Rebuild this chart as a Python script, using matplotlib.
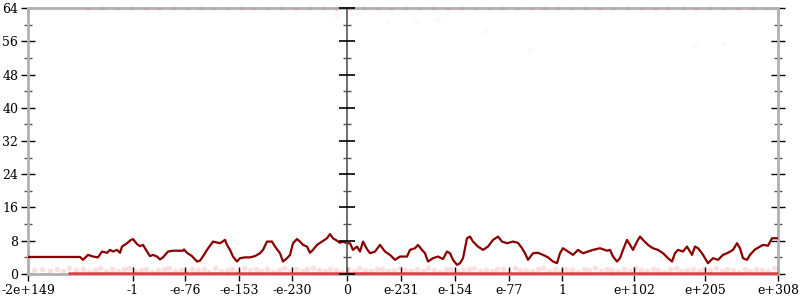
import numpy as np
import matplotlib.pyplot as plt
from matplotlib.ticker import MultipleLocator

# bucket index (0..750) -> running value
line_x = [0, 52, 55, 60, 65, 70, 74, 79, 82, 85, 89, 92, 94, 99, 103, 105, 109, 112, 115, 119,
          122, 125, 129, 132, 135, 140, 145, 155, 156, 159, 164, 169, 172, 176, 179, 185, 192, 197,
          199, 202, 205, 209, 212, 217, 222, 227, 232, 235, 239, 244, 247, 252, 255, 259, 262, 265,
          269, 272, 275, 279, 282, 285, 289, 294, 299, 302, 305, 309, 312, 315, 319, 322, 325, 329,
          332, 335, 339, 342, 347, 352, 357, 362, 367, 372, 379, 382, 387, 390, 394, 397, 400, 405,
          410, 415, 419, 422, 425, 429, 432, 435, 439, 442, 445, 450, 455, 460, 465, 470, 474, 479,
          485, 490, 494, 497, 500, 505, 510, 515, 520, 525, 529, 532, 535, 540, 545, 550, 555, 560,
          565, 572, 579, 582, 585, 589, 592, 595, 599, 602, 605, 609, 612, 615, 620, 625, 630, 635,
          640, 644, 647, 650, 655, 659, 664, 667, 670, 674, 677, 680, 685, 690, 695, 700, 705, 709,
          712, 715, 719, 722, 727, 732, 735, 740, 744, 749]
line_y = [4.1, 4.1, 3.4, 4.6, 4.2, 4.0, 5.4, 5.1, 5.8, 5.4, 5.8, 5.1, 6.6, 7.4, 8.2, 8.4, 7.2, 6.7, 7.0, 5.4,
          4.3, 4.6, 4.2, 3.5, 4.0, 5.4, 5.6, 5.6, 5.9, 5.1, 4.3, 3.0, 3.2, 4.6, 5.8, 7.8, 7.4, 8.2,
          7.0, 5.8, 4.2, 3.0, 3.8, 4.0, 4.0, 4.3, 5.0, 5.8, 7.8, 7.8, 6.6, 5.0, 3.0, 3.8, 4.6, 7.4,
          8.4, 7.8, 7.0, 6.6, 5.1, 5.8, 7.0, 7.8, 8.6, 9.6, 8.6, 8.0, 7.5, 7.8, 7.4, 7.4, 5.8, 6.6,
          5.4, 7.8, 6.0, 5.0, 5.4, 7.0, 5.4, 4.6, 3.4, 4.2, 4.2, 5.8, 6.2, 7.0, 5.8, 5.0, 3.0, 3.8,
          4.2, 3.6, 5.4, 5.0, 3.4, 2.2, 2.6, 3.8, 8.6, 9.0, 7.8, 6.6, 5.8, 6.6, 8.2, 9.0, 7.8, 7.4,
          7.8, 7.5, 6.2, 5.0, 3.4, 5.0, 5.1, 4.6, 4.0, 3.0, 2.6, 5.0, 6.2, 5.4, 4.6, 5.8, 5.0, 5.4,
          5.8, 6.2, 5.6, 5.8, 4.2, 3.0, 3.8, 5.8, 8.2, 7.0, 5.8, 7.8, 9.0, 8.2, 7.0, 6.2, 5.8, 5.0,
          3.8, 3.0, 5.0, 5.8, 5.4, 6.6, 4.6, 6.6, 6.2, 5.0, 3.8, 2.6, 3.8, 3.4, 4.6, 5.1, 5.8, 7.4,
          6.2, 3.8, 3.4, 4.6, 5.9, 6.6, 7.0, 6.8, 8.6, 8.6]

# faint raw samples near the bottom
low_x = [6, 14, 22, 29, 35, 41, 48, 55, 61, 67, 72, 78, 84, 90, 96, 101, 107, 113, 118, 124,
         130, 136, 141, 147, 153, 158, 164, 170, 176, 181, 187, 193, 199, 204, 210, 216, 222, 228,
         233, 239, 245, 251, 256, 262, 268, 274, 279, 285, 291, 297, 302, 308, 314, 320, 326, 331,
         337, 343, 349, 354, 360, 366, 372, 377, 383, 389, 395, 400, 406, 412, 418, 423, 429, 435,
         441, 446, 452, 458, 464, 469, 475, 481, 487, 492, 498, 504, 510, 515, 521, 527, 533, 538,
         544, 550, 556, 561, 567, 573, 579, 584, 590, 596, 602, 607, 613, 619, 625, 630, 636, 642,
         648, 653, 659, 665, 671, 676, 682, 688, 694, 699, 705, 711, 717, 722, 728, 734, 740, 746]
low_y = [1.0, 1.3, 0.7, 1.1, 0.6, 1.4, 0.9, 1.2, 0.5, 1.0, 1.5, 0.8, 1.2, 0.6, 1.1, 1.4, 0.7, 1.0, 1.3, 0.5,
         0.9, 1.2, 1.5, 0.7, 1.0, 0.6, 1.3, 0.9, 1.1, 0.5, 1.4, 0.8, 1.0, 1.2, 0.6, 1.5, 0.9, 1.1,
         0.7, 1.3, 0.5, 1.0, 1.4, 0.8, 1.1, 0.6, 1.2, 1.5, 0.9, 0.7, 1.3, 1.0, 0.5, 1.2, 0.8, 1.4,
         1.0, 0.6, 1.1, 1.3, 0.7, 0.9, 1.5, 1.0, 0.6, 1.2, 0.8, 1.4, 1.0, 0.5, 1.1, 1.3, 0.7, 0.9,
         1.2, 1.5, 0.6, 1.0, 0.8, 1.3, 1.1, 0.5, 1.4, 0.9, 1.0, 0.7, 1.2, 1.5, 0.6, 1.1, 0.8, 1.3,
         1.0, 0.5, 1.2, 0.9, 1.4, 0.7, 1.1, 1.0, 0.6, 1.3, 0.8, 1.5, 1.0, 0.7, 1.2, 0.9, 0.5, 1.1,
         1.4, 0.8, 1.0, 1.3, 0.6, 1.2, 0.9, 1.5, 0.7, 1.1, 1.0, 0.5, 1.3, 0.8, 1.2, 1.0, 0.6, 1.4]
zero_run = [40, 750]

# faint raw samples near the top
top_x = [60, 75, 90, 104, 118, 131, 146, 160, 172, 186, 200, 213, 226, 240, 254, 268, 281, 295,
         308, 322, 336, 350, 363, 378, 392, 405, 420, 433, 447, 461, 475, 489, 503, 516, 530, 544,
         558, 572, 585, 599, 613, 627, 640, 655, 668, 682, 696, 710, 724, 738]
top_y = [63.8, 64.0, 63.7, 64.0, 63.8, 63.7, 64.0, 63.8, 64.0, 63.7, 63.8, 64.0, 63.7, 63.8, 64.0, 63.7, 63.9, 64.0,
         63.7, 63.8, 64.0, 63.7, 63.8, 64.0, 63.7, 63.9, 63.7, 64.0, 63.8, 63.7, 64.0, 63.8, 63.7, 64.0, 63.9, 63.7,
         64.0, 63.8, 63.7, 64.0, 63.8, 63.7, 64.0, 63.9, 63.7, 64.0, 63.8, 63.7, 64.0, 63.8]
stray_x = [308, 330, 359, 388, 410, 457, 502, 667, 696]
stray_y = [62.0, 62.8, 60.8, 60.8, 61.0, 58.5, 54.0, 55.0, 55.6]

tick_pos = [0, 105, 157, 211, 264, 319, 373, 427, 481, 534, 606, 677, 750]
tick_labels = ['-2e+149', '-1', '-e-76', '-e-153', '-e-230', '0', 'e-231', 'e-154',
               'e-77', '1', 'e+102', 'e+205', 'e+308']
center = 319

plt.rcParams['font.family'] = ['DejaVu Serif']
fig = plt.figure(figsize=(8, 3), dpi=100)
ax = fig.add_axes([0.035, 0.0867, 0.9375, 0.8866])

red = '#e8202a'
ax.scatter(low_x, low_y, s=16, color=red, alpha=0.14, lw=0, zorder=2)
ax.scatter(top_x, top_y, s=14, color=red, alpha=0.07, lw=0, zorder=3, clip_on=False)
ax.scatter(stray_x, stray_y, s=14, color=red, alpha=0.03, lw=0, zorder=2)
ax.hlines(0.3, zero_run[0], zero_run[1], color=red, lw=1.8, alpha=0.85, zorder=3, clip_on=False)
ax.plot(line_x, line_y, color='#8b0000', lw=1.6, zorder=4)

ax.set_xlim(0, 750)
ax.set_ylim(0, 64)
ax.yaxis.set_major_locator(MultipleLocator(8))
ax.yaxis.set_minor_locator(MultipleLocator(4))
ax.set_xticks(tick_pos)
ax.set_xticklabels(tick_labels)

for s in ax.spines.values():
    s.set_color('#b0b0b0')
    s.set_linewidth(2)
ax.tick_params(axis='both', which='major', direction='inout', length=10, width=1,
               color='black', labelsize=9, pad=2)
ax.tick_params(axis='y', which='minor', direction='inout', length=6, width=1, color='#555555')
ax.tick_params(axis='y', which='both', right=True)

# central axis at zero
ax.axvline(center, color='#555555', lw=1.2, zorder=5)
ax.plot([center] * 9, np.arange(0, 65, 8), ls='none', marker='_', ms=11, mew=1.2,
        color='black', zorder=6, clip_on=False)
ax.plot([center] * 8, np.arange(4, 64, 8), ls='none', marker='_', ms=6, mew=1,
        color='#555555', zorder=6, clip_on=False)

fig.savefig('out.png')
